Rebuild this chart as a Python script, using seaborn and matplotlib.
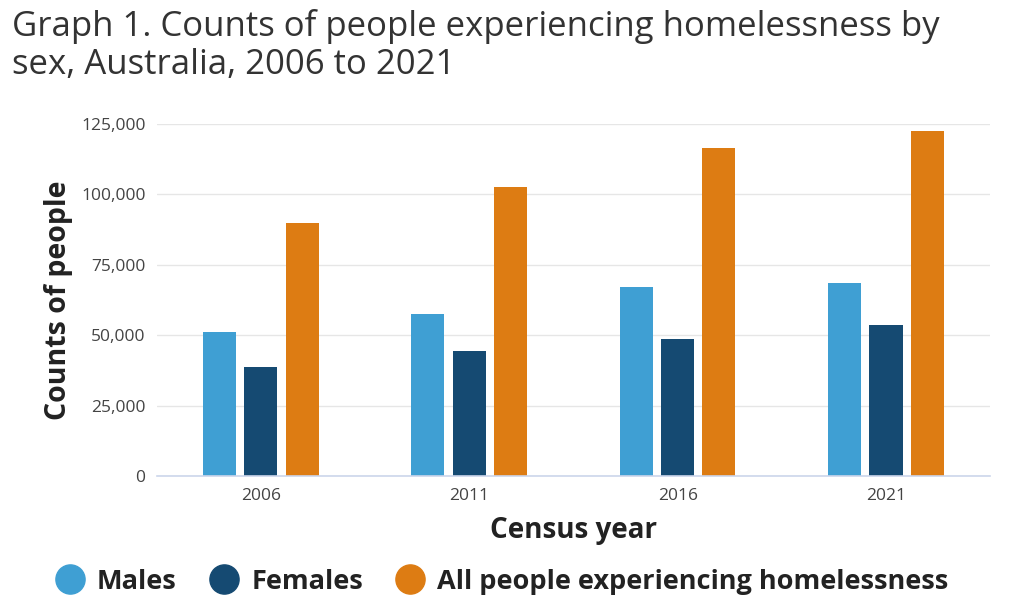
import pandas as pd
import numpy as np
import seaborn as sns
import matplotlib.pyplot as plt
from matplotlib.lines import Line2D
from matplotlib.ticker import FuncFormatter

# values (counts of people)
years = ['2006', '2011', '2016', '2021']
males = [51088, 57500, 67100, 68500]
females = [38600, 44500, 48600, 53700]
allPeople = [89700, 102400, 116400, 122500]
seriesNames = ['Males', 'Females', 'All people experiencing homelessness']
seriesColours = ['#3f9fd3', '#154a72', '#dd7c13']

# long frame for seaborn
plotFrame = pd.DataFrame({
    'year': years * 3,
    'count': males + females + allPeople,
    'series': [seriesNames[0]] * 4 + [seriesNames[1]] * 4 + [seriesNames[2]] * 4,
})

sns.set_theme(style='white')
plt.rcParams['font.family'] = ['Open Sans', 'DejaVu Sans']

fig = plt.figure(figsize=(10.24, 6.04), dpi=100)
ax = fig.add_axes([0.153, 0.212, 0.814, 0.583])

sns.barplot(data=plotFrame, x='year', y='count', hue='series',
            palette=seriesColours, width=0.595, gap=0.2,
            saturation=1, linewidth=0, ax=ax, legend=False)

ax.set_ylim(0, 125000)
ax.set_yticks(np.arange(0, 125001, 25000))
ax.yaxis.set_major_formatter(FuncFormatter(lambda v, p: f'{int(v):,}'))
ax.grid(axis='y', color='#e6e6e6', linewidth=1)
ax.set_axisbelow(True)
for s in ['top', 'right', 'left']:
    ax.spines[s].set_visible(False)
ax.spines['bottom'].set_color('#ccd6eb')
ax.spines['bottom'].set_linewidth(1.2)
ax.tick_params(axis='both', length=0, labelsize=12.5, labelcolor='#444444', pad=8)
ax.tick_params(axis='x', pad=9)

ax.set_xlabel('Census year', fontsize=20, fontweight='bold', color='#222222', labelpad=8)
ax.set_ylabel('Counts of people', fontsize=20.5, fontweight='bold', color='#222222', labelpad=6)

fig.text(0.012, 0.985, 'Graph 1. Counts of people experiencing homelessness by\nsex, Australia, 2006 to 2021',
         fontsize=25, color='#333333', va='top', ha='left', linespacing=1.15)

handles = [Line2D([0], [0], marker='o', linestyle='', markersize=21,
                  markerfacecolor=c, markeredgecolor=c) for c in seriesColours]
fig.legend(handles, seriesNames, loc='center left', bbox_to_anchor=(0.018, 0.037),
           ncol=3, frameon=False, handletextpad=0.0, columnspacing=0.75,
           prop={'size': 19.5, 'weight': 'bold'}, labelcolor='#222222')

fig.savefig('out.png', dpi=100)
